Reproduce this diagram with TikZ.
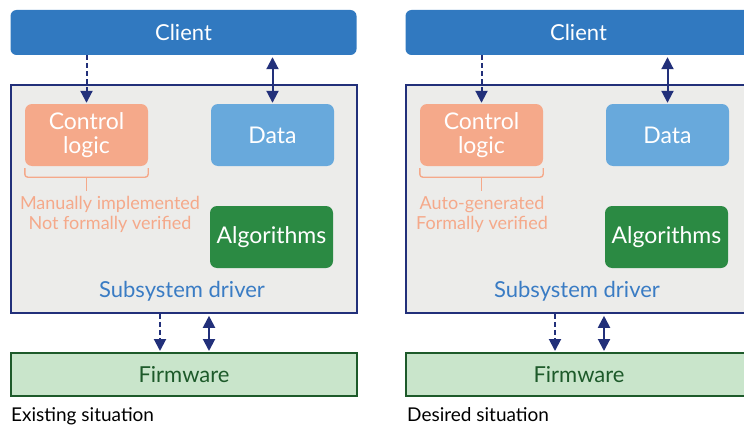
\documentclass[tikz,border=0pt]{standalone}
\usepackage{fontspec}
\setmainfont{Lato}
\usepackage{tikz}
\usetikzlibrary{positioning, arrows.meta, calc}
\definecolor{clientblue}{HTML}{3179C0}
\definecolor{datablue}{HTML}{68A9DC}
\definecolor{salmon}{HTML}{F5A98A}
\definecolor{algogreen}{HTML}{2B8A43}
\definecolor{navy}{HTML}{22307A}
\definecolor{drivergray}{HTML}{ECECEA}
\definecolor{firmfill}{HTML}{C9E5CB}
\definecolor{firmgreen}{HTML}{1D5A2A}
\definecolor{textblue}{HTML}{3A7CC4}
\tikzstyle{client} = [rectangle, rounded corners=6pt, minimum width=346pt, minimum height=45pt, text centered, fill=clientblue, text=white, font=\fontsize{22}{26}\selectfont]
\tikzstyle{driver} = [rectangle, minimum width=346pt, minimum height=228pt, draw=navy, line width=1.6pt, fill=drivergray]
\tikzstyle{block} = [rectangle, rounded corners=7pt, minimum width=123pt, minimum height=62pt, text centered, align=center, text=white, font=\fontsize{23}{26}\selectfont]
\tikzstyle{firm} = [rectangle, minimum width=346pt, minimum height=43pt, text centered, draw=firmgreen, line width=2pt, fill=firmfill, text=firmgreen, font=\fontsize{22}{26}\selectfont]
\tikzstyle{note} = [align=center, text=salmon, font=\fontsize{18}{20}\selectfont]
\tikzstyle{brace} = [salmon, line width=1.4pt, rounded corners=3pt]
\tikzstyle{arrow} = [navy, line width=2pt, <->, >={Triangle[length=12pt,width=12pt]}, shorten <=2pt, shorten >=1pt]
\tikzstyle{dasharrow} = [navy, line width=2pt, ->, >={Triangle[length=12pt,width=12pt]}, dash pattern=on 5pt off 3pt, shorten >=1pt]

\begin{document}
\begin{tikzpicture}[x=1pt, y=1pt]
\useasboundingbox (0,0) rectangle (744,424);

% existing situation
\node (driverA) [driver] at (184,225) {};
\node (clientA) [client] at (183.5,391.5) {Client};
\node (ctrlA) [block, fill=salmon] at (86.5,289) {Control\\[-2pt]logic};
\node (dataA) [block, fill=datablue] at (272.5,289) {Data};
\node (algoA) [block, fill=algogreen] at (271.5,187) {Algorithms};
\node (subA) [text=textblue, font=\fontsize{22}{26}\selectfont] at (182,133) {Subsystem driver};
\node (firmA) [firm] at (184,49.5) {Firmware};
\node (noteA) [note] at (110,210) {Manually implemented\\Not formally verified};
\node (capA) [anchor=base west, inner sep=0pt, font=\fontsize{19}{22}\selectfont] at (11,3) {Existing situation};

\draw [brace] ([yshift=-2pt]ctrlA.south west) -- ++(0,-9) -| ([yshift=-2pt]ctrlA.south east);
\draw [brace, rounded corners=0pt] ([yshift=-11pt]ctrlA.south) -- ++(0,-14);

\draw [dasharrow] (ctrlA.north |- clientA.south) -- (ctrlA.north);
\draw [arrow] (dataA.north |- clientA.south) -- (dataA.north);
\draw [dasharrow] ([xshift=-24pt]driverA.south) -- ([xshift=-24pt]firmA.north);
\draw [arrow] ([xshift=25pt]driverA.south) -- ([xshift=25pt]firmA.north);

% desired situation
\node (driverB) [driver] at (579,225) {};
\node (clientB) [client] at (578.5,391.5) {Client};
\node (ctrlB) [block, fill=salmon] at (481.5,289) {Control\\[-2pt]logic};
\node (dataB) [block, fill=datablue] at (667.5,289) {Data};
\node (algoB) [block, fill=algogreen] at (666.5,187) {Algorithms};
\node (subB) [text=textblue, font=\fontsize{22}{26}\selectfont] at (577,133) {Subsystem driver};
\node (firmB) [firm] at (579,49.5) {Firmware};
\node (noteB) [note] at (482,210) {Auto-generated\\Formally verified};
\node (capB) [anchor=base west, inner sep=0pt, font=\fontsize{19}{22}\selectfont] at (407,3) {Desired situation};

\draw [brace] ([yshift=-2pt]ctrlB.south west) -- ++(0,-9) -| ([yshift=-2pt]ctrlB.south east);
\draw [brace, rounded corners=0pt] ([yshift=-11pt]ctrlB.south) -- ++(0,-14);

\draw [dasharrow] (ctrlB.north |- clientB.south) -- (ctrlB.north);
\draw [arrow] (dataB.north |- clientB.south) -- (dataB.north);
\draw [dasharrow] ([xshift=-24pt]driverB.south) -- ([xshift=-24pt]firmB.north);
\draw [arrow] ([xshift=25pt]driverB.south) -- ([xshift=25pt]firmB.north);
\end{tikzpicture}
\end{document}
